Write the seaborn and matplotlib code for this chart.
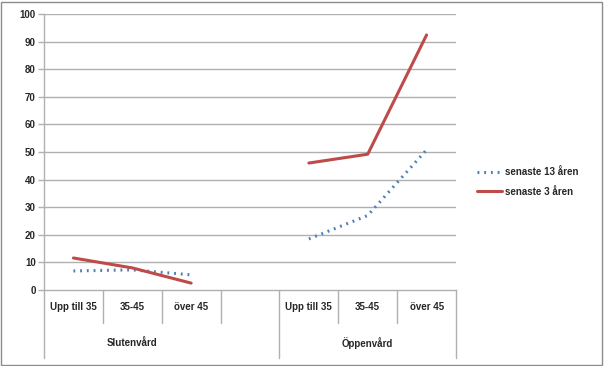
import matplotlib.pyplot as plt
import matplotlib.transforms as mtransforms
import numpy as np
import pandas as pd
import seaborn as sns

# values
categories = ["Upp till 35", "35-45", "över 45", "", "Upp till 35", "35-45", "över 45"]
groups = ["Slutenvård", "Öppenvård"]
group_members = [[0, 1, 2], [4, 5, 6]]
series_names = ["senaste 13 åren", "senaste 3 åren"]
values_13 = [6.9, 7.3, 5.5, np.nan, 18.5, 27, 50.8]
values_3 = [11.6, 8.0, 2.5, np.nan, 46, 49.2, 92.4]
yticks = list(range(0, 101, 10))

colors = {"senaste 13 åren": "#4a7ebb", "senaste 3 åren": "#be4b48"}
dashes = {"senaste 13 åren": (0.6, 1.6), "senaste 3 åren": ""}

rows = []
for name, vals in zip(series_names, [values_13, values_3]):
	for g, members in enumerate(group_members):
		for i in members:
			rows.append({"pos": i, "value": vals[i], "series": name, "group": g})
df = pd.DataFrame(rows)

sns.set_style("white")
plt.rcParams['font.family'] = ['Liberation Sans', 'DejaVu Sans']
grid_col = "#b0b0b0"

fig = plt.figure(figsize=(6.04, 3.66), dpi=100)
ax = fig.add_axes([44/604, 1 - 290/366, (456-44)/604, (290-14)/366])

sns.lineplot(data=df, x="pos", y="value", hue="series", style="series",
	     units="group", estimator=None, palette=colors, dashes=dashes,
	     linewidth=2.2, ax=ax, legend=True, sort=False)

ax.set_xlim(-0.5, len(categories) - 0.5)
ax.set_ylim(0, 100)
ax.set_yticks(yticks)
ax.set_yticklabels([str(t) for t in yticks], fontsize=7, fontweight="bold")
ax.set_xticks([])
ax.set_xlabel("")
ax.set_ylabel("")
for y in yticks[1:]:
	ax.axhline(y, color=grid_col, lw=1, zorder=0)
for s in ["top", "right"]:
	ax.spines[s].set_visible(False)
for s in ["left", "bottom"]:
	ax.spines[s].set_color(grid_col)
	ax.spines[s].set_linewidth(1)
ax.tick_params(axis="y", length=4, width=1, color=grid_col, pad=2, left=True)

# two-level category axis
trans = mtransforms.blended_transform_factory(ax.transData, ax.transAxes)
short_y = -33/276
long_y = -68/276
for i in range(len(categories) + 1):
	b = i - 0.5
	bottom = long_y if i in (0, 4, len(categories)) else short_y
	ax.plot([b, b], [0, bottom], transform=trans, color=grid_col, lw=1, clip_on=False)
for i, c in enumerate(categories):
	ax.text(i, -17/276, c, transform=trans, ha="center", va="center",
		fontsize=7, fontweight="bold")
for name, members in zip(groups, group_members):
	ax.text(np.mean(members), -53/276, name, transform=trans, ha="center",
		va="center", fontsize=7, fontweight="bold")

leg = ax.legend(loc="center left", bbox_to_anchor=(468/604, 1 - 182/366),
		bbox_transform=fig.transFigure, frameon=False, fontsize=7,
		handlelength=2.6, handletextpad=0.3, labelspacing=1.0)
for t in leg.get_texts():
	t.set_fontweight("bold")

fig.patches.append(plt.Rectangle((1/604, 1/366), 601/604, 363/366,
				 transform=fig.transFigure, fill=False,
				 edgecolor="#8c8c8c", lw=1))

plt.savefig("out.png", dpi=100)
plt.close()
